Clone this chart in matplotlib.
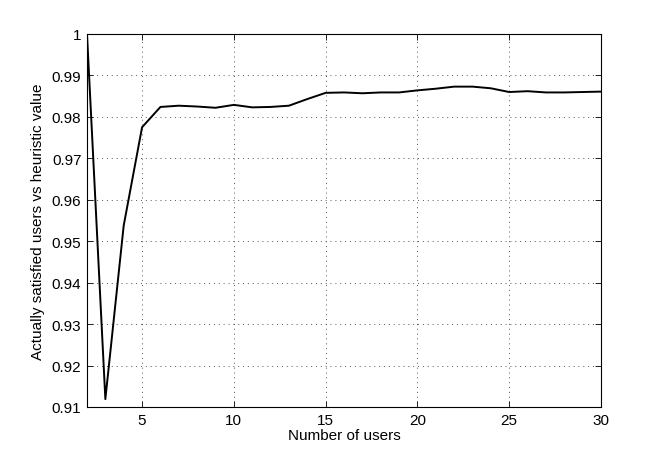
import matplotlib
matplotlib.use("Agg")
import matplotlib.pyplot as plt

users = list(range(2, 31))
ratio = [1.0, 0.9119, 0.9538, 0.9775, 0.9824, 0.9827, 0.9825, 0.9822, 0.9829,
         0.9823, 0.9824, 0.9827, 0.9843, 0.9858, 0.9859, 0.9857, 0.9859, 0.9859,
         0.9864, 0.9868, 0.9873, 0.9873, 0.9869, 0.9860, 0.9862, 0.9859, 0.9859,
         0.9860, 0.9861]
xticks = [5, 10, 15, 20, 25, 30]
yticks = [0.91, 0.92, 0.93, 0.94, 0.95, 0.96, 0.97, 0.98, 0.99, 1.0]
yticklabels = ["0.91", "0.92", "0.93", "0.94", "0.95", "0.96", "0.97", "0.98", "0.99", "1"]

plt.rcParams['font.family'] = ['Liberation Sans', 'DejaVu Sans']
fig = plt.figure(figsize=(6.64, 4.6), dpi=100)
ax = fig.add_axes([87/664, 52/460, 514/664, 373/460])
ax.plot(users, ratio, color='black', lw=1.4)
ax.set_xlim(2, 30)
ax.set_ylim(0.91, 1.0)
ax.set_xticks(xticks)
ax.set_yticks(yticks)
ax.set_yticklabels(yticklabels)
ax.tick_params(direction='in', top=True, right=True, length=4, width=0.6, labelsize=11, pad=4)
ax.grid(True, linestyle=(0, (1, 4)), color='#555555', lw=0.7)
for s in ax.spines.values():
    s.set_linewidth(0.8)
ax.set_xlabel("Number of users", fontsize=11, labelpad=1)
ax.set_ylabel("Actually satisfied users vs heuristic value", fontsize=11, labelpad=5)
fig.savefig("out.png", dpi=100)
